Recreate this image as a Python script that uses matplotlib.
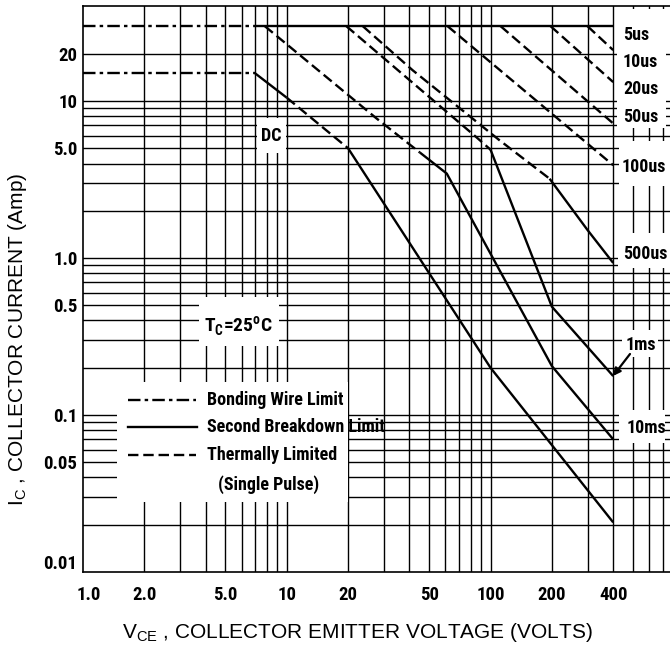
import matplotlib
matplotlib.use("Agg")
import matplotlib.pyplot as plt
from matplotlib.patches import Rectangle
from matplotlib.ticker import FixedLocator, NullLocator, FixedFormatter
from matplotlib import font_manager as fm
import matplotlib.transforms as mtransforms

# ---------------- data ----------------
x_ticks = [1, 2, 5, 10, 20, 50, 100, 200, 400]
x_ticklabels = ["1.0", "2.0", "5.0", "10", "20", "50", "100", "200", "400"]
y_ticks = [0.01, 0.05, 0.1, 0.5, 1, 5, 10, 20]
y_ticklabels = ["0.01", "0.05", "0.1", "0.5", "1.0", "5.0", "10", "20"]

x_grid = [2, 3, 4, 5, 6, 7, 8, 9, 10, 20, 30, 40, 50, 60, 70, 80, 90,
          100, 200, 300, 400, 500, 600, 700]
y_grid = [0.02, 0.03, 0.04, 0.05, 0.06, 0.07, 0.08, 0.09,
          0.1, 0.2, 0.3, 0.4, 0.5, 0.6, 0.7, 0.8, 0.9,
          1, 2, 3, 4, 5, 6, 7, 8, 9, 10, 20]

# bonding wire limits (dash-dot)
bond30_v = [1.0, 7.8]
bond30_i = [30, 30]
bonddc_v = [1.0, 7.0]
bonddc_i = [15, 15]

# pulse curves
us5_v = [7.8, 400]
us5_i = [30, 30]
us10_v = [299, 400]
us10_i = [30, 21.1]
us20_v = [197, 400]
us20_i = [30, 13.2]
us50_v = [112, 400]
us50_i = [30, 7.2]
us100_v = [61.5, 400]
us100_i = [30, 3.9]
us500_th_v = [23.6, 41.5, 110, 195]
us500_th_i = [30, 15.7, 5.66, 3.2]
us500_sb_v = [195, 299, 400]
us500_sb_i = [3.2, 1.51, 0.93]
ms1_th_v = [19.6, 85, 100]
ms1_th_i = [30, 5.9, 4.9]
ms1_sb_v = [100, 200, 400]
ms1_sb_i = [4.9, 0.49, 0.177]
ms10_th_v = [7.8, 27.5, 45]
ms10_th_i = [30, 7.77, 4.7]
ms10_sb_v = [45, 61, 200, 400]
ms10_sb_i = [4.7, 3.45, 0.205, 0.07]
dc_sb1_v = [7.0, 10]
dc_sb1_i = [15, 10.5]
dc_th_v = [10, 20]
dc_th_i = [10.5, 5]
dc_sb2_v = [20, 100, 400]
dc_sb2_i = [5, 0.2, 0.0207]

curve_labels = ["5us", "10us", "20us", "50us", "100us", "500us", "1ms", "10ms"]


# ---------------- fonts ----------------
def _w(f):
    w = f.weight
    if isinstance(w, str):
        w = fm.weight_dict.get(w, 400)
    return w


def pick_condensed_bold():
    prefs = [
        ('Liberation Sans Narrow', None),
        ('Roboto Condensed', None),
        ('Open Sans Condensed', None),
        ('Noto Sans', 'extra-condensed'),
        ('Noto Sans', 'condensed'),
        ('DejaVu Sans', 'condensed'),
        ('Noto Sans', 'semi-condensed'),
        ('Roboto', 'condensed'),
        ('Open Sans', 'condensed'),
        ('Open Sans', 'semi-condensed'),
    ]
    for name, stretch in prefs:
        cands = [f for f in fm.fontManager.ttflist if f.name == name and
                 (stretch is None or str(f.stretch) == stretch)]
        bold = [f for f in cands if 650 <= _w(f) <= 800 and f.style == 'normal']
        if bold:
            return fm.FontProperties(fname=bold[0].fname)
    return fm.FontProperties(family=['Liberation Sans', 'DejaVu Sans'],
                             weight='bold')


BFP = pick_condensed_bold()
REG = ['Liberation Sans', 'DejaVu Sans']
FS = 13

plt.rcParams['lines.scale_dashes'] = False

W, H = 670, 645
fig = plt.figure(figsize=(W / 100, H / 100), dpi=100)
L, R, T, B = 83, 670, 6, 572
ax = fig.add_axes([L / W, (H - B) / H, (R - L) / W, (B - T) / H])


def pa(px, py):
    """pixel position -> axes fraction"""
    return ((px - L) / (R - L), (B - py) / (B - T))


def bfp(size=FS):
    p = BFP.copy()
    p.set_size(size)
    return p


ax.set_xscale('log')
ax.set_yscale('log')
ax.set_xlim(1, 760)
ax.set_ylim(0.01, 40.3)

ax.xaxis.set_major_locator(FixedLocator(x_ticks))
ax.xaxis.set_major_formatter(FixedFormatter(x_ticklabels))
ax.xaxis.set_minor_locator(NullLocator())
ax.yaxis.set_major_locator(FixedLocator(y_ticks))
ax.yaxis.set_major_formatter(FixedFormatter(y_ticklabels))
ax.yaxis.set_minor_locator(NullLocator())
ax.tick_params(axis='both', length=0)
ax.tick_params(axis='x', pad=10)
ax.tick_params(axis='y', pad=4)
for lab in ax.get_xticklabels() + ax.get_yticklabels():
    lab.set_fontproperties(bfp(13.5))

for s in ['left', 'bottom', 'top']:
    ax.spines[s].set_linewidth(1.2)
ax.spines['right'].set_visible(False)

# grid
for v in x_grid:
    ax.axvline(v, color='black', lw=1.0, zorder=1)
for v in y_grid:
    ax.axhline(v, color='black', lw=1.0, zorder=1)

# white label areas (pixel boxes)
boxes = [
    (257, 286, 118, 153),   # DC
    (199, 279, 297, 346),   # Tc
    (117, 347.5, 382, 502), # legend
    (617, 666, 9, 128),     # 5us..50us
    (619, 670, 141, 186),   # 100us
    (618, 670, 233, 268),   # 500us
    (622, 658, 330, 357),   # 1ms
    (619, 665, 410, 443),   # 10ms
]
for x0, x1, y0, y1 in boxes:
    ax0, ay1 = pa(x0, y0)
    ax1_, ay0 = pa(x1, y1)
    ax.add_patch(Rectangle((ax0, ay0), ax1_ - ax0, ay1 - ay0,
                           transform=ax.transAxes, facecolor='white',
                           edgecolor='none', zorder=2))

LW = 1.7
DASH = (0, (7.5, 3.5))
DASHDOT = (0, (9, 3, 2.5, 3))
kw = dict(color='black', lw=LW, zorder=3, solid_capstyle='butt')

ax.plot(bond30_v, bond30_i, linestyle=DASHDOT, **kw)
ax.plot(bonddc_v, bonddc_i, linestyle=DASHDOT, **kw)
ax.plot(us5_v, us5_i, linestyle='-', **kw)
for v, i in [(us10_v, us10_i), (us20_v, us20_i), (us50_v, us50_i),
             (us100_v, us100_i), (us500_th_v, us500_th_i),
             (ms1_th_v, ms1_th_i), (ms10_th_v, ms10_th_i), (dc_th_v, dc_th_i)]:
    ax.plot(v, i, linestyle=DASH, **kw)
for v, i in [(us500_sb_v, us500_sb_i), (ms1_sb_v, ms1_sb_i),
             (ms10_sb_v, ms10_sb_i), (dc_sb1_v, dc_sb1_i), (dc_sb2_v, dc_sb2_i)]:
    ax.plot(v, i, linestyle='-', **kw)

tkw = dict(transform=ax.transAxes, fontproperties=bfp(), color='black',
           zorder=5)

# curve labels
label_pos = [(623, 35), (623, 62), (623, 89), (623, 117), (622, 167),
             (623, 254), (626, 345), (627, 428)]
for txt, (px, py) in zip(curve_labels, label_pos):
    ax.text(*pa(px, py), txt, ha='left', va='center', **tkw)
ax.text(*pa(271, 136), "DC", ha='center', va='center', **tkw)
ax.annotate("", xy=pa(613, 376), xycoords='axes fraction',
            xytext=pa(630, 354), textcoords='axes fraction',
            arrowprops=dict(arrowstyle='-|>', color='black', lw=1.6,
                            mutation_scale=11, shrinkA=0, shrinkB=0),
            zorder=5)

ax.text(*pa(238, 326), r"T$_\mathregular{C}$=25$^\mathregular{o}$C",
        ha='center', va='center', transform=ax.transAxes,
        fontproperties=bfp(14), color='black', zorder=5)

# legend
leg = [((128, 196), 400, DASHDOT, "Bonding Wire Limit"),
       ((128, 197), 427, '-', "Second Breakdown Limit"),
       ((128, 196), 455, DASH, "Thermally Limited")]
for (xa, xb), py, ls, txt in leg:
    p0 = pa(xa, py)
    p1 = pa(xb, py)
    ax.plot([p0[0], p1[0]], [p0[1], p1[1]], transform=ax.transAxes,
            color='black', lw=LW, linestyle=ls, zorder=5, clip_on=False)
    ax.text(*pa(207, py), txt, ha='left', va='center', **tkw)
ax.text(*pa(269, 485), "(Single Pulse)", ha='center', va='center', **tkw)

# axis titles
fig.text(357 / W, 1 - 632 / H, r"V$_\mathregular{CE}$ , COLLECTOR EMITTER VOLTAGE (VOLTS)",
         ha='center', va='center', family=REG, size=15)
fig.text(18 / W, 1 - 339 / H, r"I$_\mathregular{C}$ , COLLECTOR CURRENT (Amp)",
         ha='center', va='center', rotation=90, family=REG, size=15)

# corner tick label nudges
xl = ax.get_xticklabels()
xl[0].set_transform(xl[0].get_transform() +
                    mtransforms.ScaledTranslation(6 / 100, 0, fig.dpi_scale_trans))
yl = ax.get_yticklabels()
yl[0].set_transform(yl[0].get_transform() +
                    mtransforms.ScaledTranslation(0, 10 / 100, fig.dpi_scale_trans))

fig.savefig("out.png", dpi=100)
